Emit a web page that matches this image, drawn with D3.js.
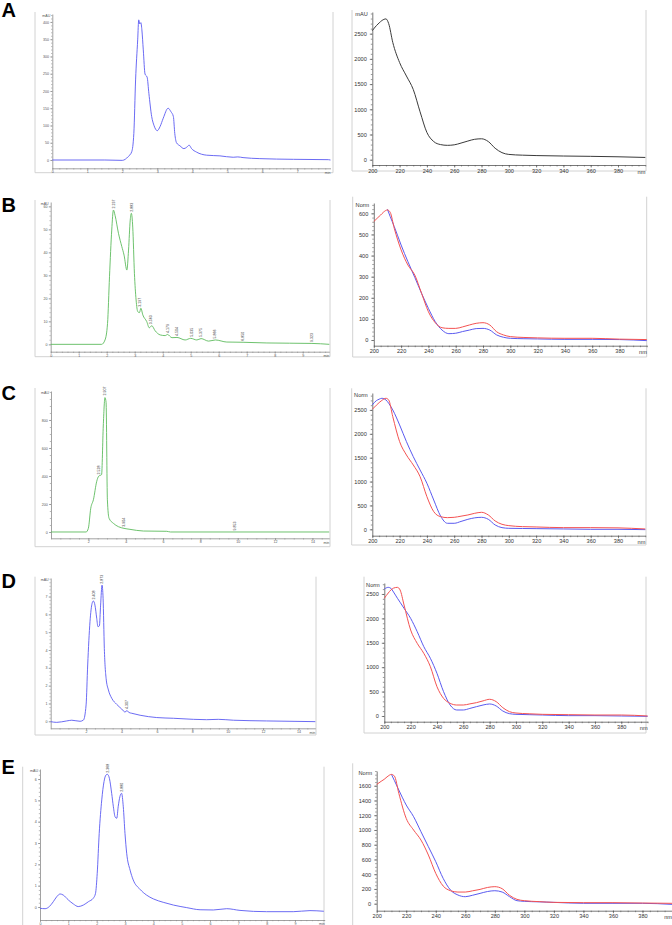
<!DOCTYPE html>
<html>
<head>
<meta charset="utf-8">
<script src="https://d3js.org/d3.v7.min.js"></script>
<style>
  body { margin: 0; background: #fff; }
  svg { display: block; }
</style>
</head>
<body>
<svg width="672" height="925"></svg>
<script>
// ---------- chromatograms (time in min, signal in mAU) ----------
var aTime = [0, 1.5, 2.0, 2.17, 2.27, 2.33, 2.38, 2.44, 2.47, 2.50, 2.53, 2.56, 2.60, 2.65, 2.71, 2.76, 2.84, 2.91, 3.0, 3.08,
  3.17, 3.31, 3.39, 3.46, 3.50, 3.55, 3.65, 3.76, 3.84, 3.91, 3.98, 4.12, 4.41, 4.79, 5.17, 5.3, 5.45, 5.93, 6.89, 7.89, 7.95];
var aSignal = [0, 0, -1, 10, 24, 77, 232, 348, 406, 394, 398, 377, 319, 249, 240, 193, 126, 99, 85, 97,
  121, 150, 140, 126, 77, 50, 41, 33, 37, 43, 33, 23, 14, 12, 8, 9, 7, 4, 2, 1, 0];

var bTime = [0, 1.82, 1.94, 2.03, 2.10, 2.18, 2.24, 2.30, 2.42, 2.54, 2.62, 2.72, 2.78, 2.84, 2.88, 2.93, 2.99, 3.05, 3.11, 3.17,
  3.22, 3.29, 3.43, 3.52, 3.61, 3.73, 3.91, 4.09, 4.17, 4.33, 4.51, 4.80, 5.00, 5.22, 5.37, 5.64, 5.88, 6.29, 6.87, 7.72, 9.33, 9.95];
var bSignal = [0, 0, 1.9, 9.1, 29.4, 49.7, 58.4, 56, 48.3, 42.5, 38.8, 32.3, 41, 54, 57, 51, 30.9, 19.3, 14.2, 13.8,
  15.7, 12.8, 9.9, 7.2, 8.1, 5.9, 4.1, 3.8, 4.3, 2.9, 3.0, 1.9, 2.6, 1.9, 2.5, 1.4, 1.9, 1.0, 0.9, 0.6, 0.4, 0];
var bPeakTime = [2.237, 2.883, 3.197, 3.563, 4.179, 4.504, 5.035, 5.375, 5.866, 6.850, 9.323];
var bPeakHeight = [58.4, 57, 15.7, 8.1, 4.3, 3.0, 2.6, 2.5, 1.9, 0.9, 0.4];
var bPeakLabels = ["2.237", "2.883", "3.197", "3.563", "4.179", "4.504", "5.035", "5.375", "5.866", "6.850", "9.323"];

var cTime = [0, 1.88, 2.0, 2.13, 2.27, 2.45, 2.55, 2.71, 2.80, 2.89, 2.95, 3.02, 3.11, 3.34, 3.61, 3.91, 4.23, 4.95, 6.2, 6.4, 14.9];
var cSignal = [0, 0, 26, 170, 230, 362, 398, 410, 757, 960, 925, 230, 98, 62, 38, 26, 19, 7, 5, 0, 0];
var cPeakTime = [2.55, 2.9, 3.91, 9.85];
var cPeakHeight = [400, 965, 26, 0];
var cPeakLabels = ["2.528", "2.907", "3.904", "9.853"];

var dTime = [0, 0.34, 0.9, 1.19, 1.66, 1.85, 2.0, 2.09, 2.22, 2.34, 2.41, 2.5, 2.6, 2.67, 2.75, 2.82, 2.9, 2.96, 3.03, 3.13,
  3.26, 3.45, 3.73, 4.01, 4.2, 4.31, 4.41, 4.58, 5.05, 5.99, 6.93, 8.06, 8.81, 9.47, 10.32, 12.2, 14.95];
var dSignal = [-0.02, -0.06, 0.02, 0.06, 0, 0.07, 0.92, 3.16, 5.59, 6.62, 6.75, 6.52, 5.78, 5.31, 5.35, 6.52, 7.64, 6.9, 4.09, 2.41,
  1.76, 1.29, 0.95, 0.69, 0.52, 0.6, 0.5, 0.45, 0.34, 0.21, 0.17, 0.11, 0.09, 0.11, 0.06, 0.02, -0.02];
var dPeakTime = [2.41, 2.9, 4.31];
var dPeakHeight = [6.75, 7.64, 0.6];
var dPeakLabels = ["2.408", "2.873", "4.307"];

var eTime = [0, 0.18, 0.33, 0.47, 0.59, 0.71, 0.82, 1.0, 1.18, 1.35, 1.53, 1.71, 1.88, 1.96, 2.02, 2.09, 2.18, 2.26, 2.33, 2.38,
  2.45, 2.53, 2.59, 2.65, 2.71, 2.76, 2.82, 2.88, 2.94, 3.0, 3.06, 3.18, 3.29, 3.53, 3.76, 4.0, 4.35, 4.71, 5.18, 5.65,
  6.12, 6.59, 7.06, 8.0, 8.94, 9.53, 10.02];
var eSignal = [-0.06, -0.08, 0.02, 0.25, 0.48, 0.61, 0.56, 0.33, 0.14, 0.02, 0.09, 0.25, 0.41, 0.64, 1.58, 3.45, 5.02, 5.88, 6.19, 6.22,
  6.03, 5.33, 4.7, 4.23, 4.16, 4.7, 5.17, 5.33, 4.7, 3.45, 2.52, 1.73, 1.27, 0.83, 0.56, 0.38, 0.22, 0.09, -0.03, -0.13,
  -0.14, -0.08, -0.16, -0.22, -0.22, -0.17, -0.2];
var ePeakTime = [2.38, 2.88];
var ePeakHeight = [6.22, 5.33];
var ePeakLabels = ["2.368", "2.880"];

// ---------- UV spectra (wavelength in nm) ----------
var wl = [200, 203, 205, 207, 210, 212, 215, 220, 225, 230, 235, 240, 245, 250, 255, 260, 265, 270, 275, 280,
  285, 290, 295, 300, 310, 320, 340, 360, 380, 400];
var aSpec = [2560, 2660, 2713, 2760, 2793, 2700, 2327, 1927, 1660, 1393, 950, 540, 360, 300, 285, 295, 330, 370, 405, 415,
  360, 227, 140, 105, 90, 82, 73, 67, 58, 45];
var bRed = [561, 580, 592, 605, 616, 605, 529, 427, 355, 308, 221, 134, 82, 58, 55, 55, 62, 71, 79, 82,
  71, 39, 24, 16, 12, 10, 8, 8, 4, 2];
var bBlue = [null, null, null, null, 619, 585, 537, 450, 371, 297, 221, 150, 87, 47, 30, 32, 40, 47, 54, 55,
  47, 24, 13, 8, 6, 5, 3, 3, 2, -3];
var cRed = [2514, 2600, 2654, 2700, 2744, 2709, 2360, 1837, 1557, 1348, 1103, 684, 370, 265, 244, 251, 275, 300, 335, 356,
  300, 175, 105, 77, 56, 49, 35, 35, 30, 7];
var cBlue = [2605, 2695, 2725, 2744, 2709, 2640, 2500, 2186, 1837, 1522, 1243, 964, 614, 279, 126, 126, 165, 209, 240, 251,
  209, 91, 35, 21, 17, 14, 7, 0, 0, -7];
var dRed = [2411, 2520, 2582, 2620, 2636, 2582, 2274, 1762, 1489, 1284, 1011, 601, 362, 260, 225, 225, 248, 273, 310, 342,
  294, 171, 89, 61, 45, 34, 27, 20, 20, 0];
var dBlue = [2602, 2636, 2616, 2540, 2411, 2330, 2206, 2001, 1728, 1421, 1182, 874, 499, 225, 123, 123, 155, 191, 225, 246,
  205, 102, 48, 34, 27, 20, 7, 7, 0, -7];
var eRed = [1618, 1660, 1686, 1720, 1754, 1731, 1496, 1157, 999, 863, 660, 411, 240, 176, 158, 158, 175, 194, 220, 231,
  203, 113, 59, 41, 28, 18, 14, 14, 9, 5];
var eBlue = [null, null, null, null, 1754, 1670, 1541, 1338, 1180, 976, 773, 570, 344, 185, 118, 95, 115, 140, 165, 176,
  158, 95, 41, 32, 25, 18, 5, 5, 5, -9];

// ---------- tick labels ----------
var wlTicks = [200, 220, 240, 260, 280, 300, 320, 340, 360, 380];
var panelLetters = ["A", "B", "C", "D", "E"];

var svg = d3.select("svg");
var FONT = "'Liberation Sans', Arial, sans-serif";

function steps(a, b, s) {
  var out = [];
  for (var i = 0; a + i * s <= b + 1e-9; i++) out.push(+(a + i * s).toFixed(4));
  return out;
}

function drawPanel(p) {
  var g = svg.append("g");
  var f = p.frame;
  g.append("path")
    .attr("d", "M" + f[0] + "," + f[1] + "V" + f[3] + "H" + f[2] + "V" + f[1])
    .attr("fill", "none").attr("stroke", "#d2d2d2").attr("stroke-width", 1);

  var x = d3.scaleLinear().domain(p.xDom).range(p.xRange);
  var y = d3.scaleLinear().domain(p.yDom).range(p.yRange);
  var fs = p.spec ? 5.6 : 3.6;
  var axCol = p.spec ? "#555" : "#8a8a8a";
  var txtCol = p.spec ? "#333" : "#555";

  // minor ticks
  var xm = g.append("g").attr("transform", "translate(0," + p.yRange[0] + ")")
    .call(d3.axisBottom(x).tickValues(p.xMinor).tickSize(p.spec ? 1.5 : 1.2).tickFormat(""));
  var ym = g.append("g").attr("transform", "translate(" + p.xRange[0] + ",0)")
    .call(d3.axisLeft(y).tickValues(p.yMinor).tickSize(p.spec ? 1.5 : 1.2).tickFormat(""));
  [xm, ym].forEach(function(a) {
    a.select(".domain").remove();
    a.selectAll("line").attr("stroke", axCol).attr("stroke-width", 0.6);
  });

  // major axes
  var xa = g.append("g").attr("transform", "translate(0," + p.yRange[0] + ")")
    .call(d3.axisBottom(x).tickValues(p.xTicks).tickSize(p.spec ? 2.5 : 2).tickSizeOuter(0)
      .tickPadding(p.spec ? 1.2 : 0.6).tickFormat(function(d) { return d; }));
  var ya = g.append("g").attr("transform", "translate(" + p.xRange[0] + ",0)")
    .call(d3.axisLeft(y).tickValues(p.yTicks).tickSize(p.spec ? 2.5 : 2).tickSizeOuter(0)
      .tickPadding(p.spec ? 3 : 1.2).tickFormat(function(d) { return d; }));
  [xa, ya].forEach(function(a) {
    a.attr("font-size", fs).attr("font-family", FONT);
    a.select(".domain").attr("stroke", axCol).attr("stroke-width", 0.8);
    a.selectAll("line").attr("stroke", axCol).attr("stroke-width", 0.7);
    a.selectAll("text").attr("fill", txtCol);
  });

  // unit labels
  g.append("text")
    .attr("x", p.xRange[0] - (p.spec ? 4.5 : 2)).attr("y", p.yRange[1] + (p.spec ? 4 : 2.5))
    .attr("text-anchor", "end").attr("font-family", FONT).attr("font-size", fs)
    .attr("fill", txtCol).text(p.yUnit);
  g.append("text")
    .attr("x", p.xRange[1]).attr("y", p.yRange[0] + (p.spec ? 8.5 : 5.2))
    .attr("text-anchor", "end").attr("font-family", FONT).attr("font-size", fs)
    .attr("fill", txtCol).text(p.xUnit);

  // traces
  var line = d3.line()
    .defined(function(d) { return d[1] != null; })
    .x(function(d) { return x(d[0]); })
    .y(function(d) { return y(d[1]); })
    .curve(d3.curveMonotoneX);
  p.series.forEach(function(s) {
    g.append("path").datum(d3.zip(s.x, s.y))
      .attr("d", line)
      .attr("fill", "none").attr("stroke", s.color)
      .attr("stroke-width", s.width).attr("stroke-linejoin", "round");
  });

  // peak retention-time labels
  if (p.peaks) {
    p.peaks.labels.forEach(function(lab, i) {
      var px = x(p.peaks.t[i]), py = y(p.peaks.v[i]) - 1.5;
      g.append("text")
        .attr("transform", "translate(" + (px + 1.2) + "," + py + ") rotate(-90)")
        .attr("font-family", FONT).attr("font-size", 3.6).attr("fill", "#333")
        .text(lab);
    });
  }
}

var chromBlue = "#5a5af2", chromGreen = "#5dbb5d";
var specRed = "#f45252", specBlue = "#5a5af0", specBlack = "#3a3a3a";

// ---------- A ----------
drawPanel({
  frame: [35, 12, 333, 172.7],
  xDom: [0, 7.95], xRange: [52.3, 330.5], yDom: [-24, 423], yRange: [168.3, 14],
  xTicks: steps(0, 7, 1), xMinor: steps(0, 7.9, 0.2), yTicks: steps(0, 400, 50), yMinor: steps(0, 420, 10),
  yUnit: "mAU", xUnit: "min",
  series: [{ x: aTime, y: aSignal, color: chromBlue, width: 0.9 }]
});
drawPanel({
  spec: true, frame: [352, 10, 646, 171],
  xDom: [200, 400], xRange: [372.3, 645.3], yDom: [-105, 2930], yRange: [165, 12],
  xTicks: wlTicks, xMinor: steps(200, 400, 5), yTicks: steps(0, 2500, 500), yMinor: steps(0, 2900, 100),
  yUnit: "mAU", xUnit: "nm",
  series: [{ x: wl, y: aSpec, color: specBlack, width: 1 }]
});

// ---------- B ----------
drawPanel({
  frame: [35, 200, 330, 356.7],
  xDom: [0, 9.95], xRange: [50.7, 329.3], yDom: [-3.2, 61.9], yRange: [351.7, 202],
  xTicks: steps(0, 9, 1), xMinor: steps(0, 9.9, 0.2), yTicks: steps(0, 60, 10), yMinor: steps(0, 60, 2),
  yUnit: "mAU", xUnit: "min",
  series: [{ x: bTime, y: bSignal, color: chromGreen, width: 0.9 }],
  peaks: { t: bPeakTime, v: bPeakHeight, labels: bPeakLabels }
});
drawPanel({
  spec: true, frame: [352.7, 196.7, 646.7, 357],
  xDom: [200, 400], xRange: [373.8, 646.8], yDom: [-27, 649], yRange: [345.7, 203],
  xTicks: wlTicks, xMinor: steps(200, 400, 5), yTicks: steps(0, 600, 100), yMinor: steps(0, 640, 20),
  yUnit: "Norm", xUnit: "nm",
  series: [{ x: wl, y: bBlue, color: specBlue, width: 1 }, { x: wl, y: bRed, color: specRed, width: 1 }]
});

// ---------- C ----------
drawPanel({
  frame: [35, 388, 330, 546.7],
  xDom: [0, 14.9], xRange: [51, 329.2], yDom: [-45, 1007], yRange: [538.3, 391],
  xTicks: steps(2, 14, 2), xMinor: steps(0, 14.5, 0.5), yTicks: steps(0, 800, 200), yMinor: steps(0, 1000, 50),
  yUnit: "mAU", xUnit: "min",
  series: [{ x: cTime, y: cSignal, color: chromGreen, width: 0.9 }],
  peaks: { t: cPeakTime, v: cPeakHeight, labels: cPeakLabels }
});
drawPanel({
  spec: true, frame: [351.7, 388.3, 646, 545],
  xDom: [200, 400], xRange: [372.3, 645.3], yDom: [-134, 2855], yRange: [535.7, 393],
  xTicks: wlTicks, xMinor: steps(200, 400, 5), yTicks: steps(0, 2500, 500), yMinor: steps(0, 2800, 100),
  yUnit: "Norm", xUnit: "nm",
  series: [{ x: wl, y: cBlue, color: specBlue, width: 1 }, { x: wl, y: cRed, color: specRed, width: 1 }]
});

// ---------- D ----------
drawPanel({
  frame: [35, 576.7, 316, 735],
  xDom: [0, 14.95], xRange: [50.7, 315.3], yDom: [-0.393, 8.04], yRange: [728.3, 578],
  xTicks: steps(2, 14, 2), xMinor: steps(0, 14.5, 0.5), yTicks: steps(0, 7, 1), yMinor: steps(0, 8, 0.2),
  yUnit: "mAU", xUnit: "min",
  series: [{ x: dTime, y: dSignal, color: chromBlue, width: 0.9 }],
  peaks: { t: dPeakTime, v: dPeakHeight, labels: dPeakLabels }
});
drawPanel({
  spec: true, frame: [364, 576.7, 646, 733],
  xDom: [200, 400], xRange: [384.3, 647.6], yDom: [-117, 2725], yRange: [721.7, 583],
  xTicks: wlTicks, xMinor: steps(200, 400, 5), yTicks: steps(0, 2500, 500), yMinor: steps(0, 2700, 100),
  yUnit: "Norm", xUnit: "nm",
  series: [{ x: wl, y: dBlue, color: specBlue, width: 1 }, { x: wl, y: dRed, color: specRed, width: 1 }]
});

// ---------- E ----------
drawPanel({
  frame: [22.7, 766.7, 324, 930],
  xDom: [0, 10.05], xRange: [40, 324.7], yDom: [-0.61, 6.47], yRange: [920, 769],
  xTicks: steps(0, 9, 1), xMinor: steps(0, 10, 0.2), yTicks: steps(0, 6, 1), yMinor: steps(0, 6.4, 0.2),
  yUnit: "mAU", xUnit: "min",
  series: [{ x: eTime, y: eSignal, color: chromBlue, width: 0.9 }],
  peaks: { t: ePeakTime, v: ePeakHeight, labels: ePeakLabels }
});
drawPanel({
  spec: true, frame: [352.7, 763.3, 680, 930],
  xDom: [200, 400], xRange: [376.7, 672], yDom: [-95, 1800], yRange: [910.7, 771],
  xTicks: wlTicks, xMinor: steps(200, 400, 5), yTicks: steps(0, 1600, 200), yMinor: steps(0, 1800, 50),
  yUnit: "Norm", xUnit: "nm",
  series: [{ x: wl, y: eBlue, color: specBlue, width: 1 }, { x: wl, y: eRed, color: specRed, width: 1 }]
});

// ---------- panel letters ----------
var letterY = [17, 211.7, 400, 588.3, 774];
svg.selectAll("text.letter").data(panelLetters).join("text")
  .attr("class", "letter")
  .attr("x", 1.5).attr("y", function(d, i) { return letterY[i]; })
  .attr("font-family", FONT).attr("font-weight", "bold").attr("font-size", 20)
  .attr("fill", "#000")
  .text(function(d) { return d; });
</script>
</body>
</html>
